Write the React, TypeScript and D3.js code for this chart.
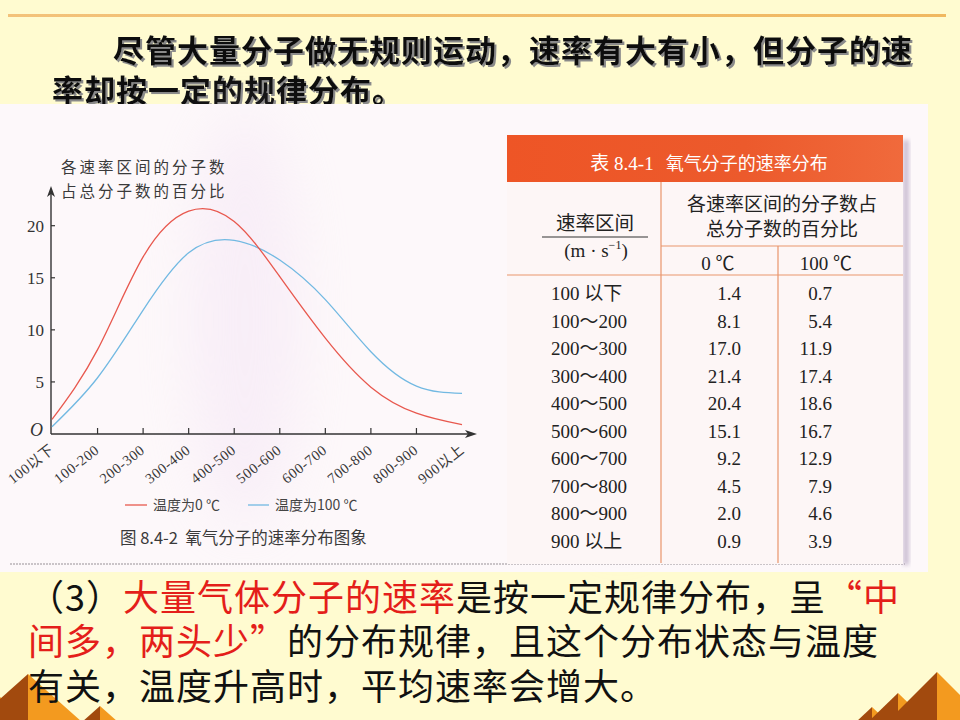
import React from "react";
import * as d3 from "d3";

// speed intervals (m/s) and share of molecules in each, for O2 at 0 °C and 100 °C
const axisBins = ["100以下", "100-200", "200-300", "300-400", "400-500", "500-600", "600-700", "700-800", "800-900", "900以上"];
const tableBins = ["100 以下", "100～200", "200～300", "300～400", "400～500", "500～600", "600～700", "700～800", "800～900", "900 以上"];
const pct0C = [1.4, 8.1, 17.0, 21.4, 20.4, 15.1, 9.2, 4.5, 2.0, 0.9];
const pct100C = [0.7, 5.4, 11.9, 17.4, 18.6, 16.7, 12.9, 7.9, 4.6, 3.9];
const yTicks = [5, 10, 15, 20];

const RED = "#e8584e";
const BLUE = "#72b9e2";
const SERIF = "'Liberation Serif', 'Noto Sans CJK SC', serif";
const CJK = "'Noto Sans CJK SC', sans-serif";

// pyramid decorations: peak x, peak y, half width of base
const pyramids = [
  { x: 0, y: 697, w: 30 },
  { x: 28, y: 674, w: 54 },
  { x: 100, y: 706, w: 18 },
  { x: 872, y: 707, w: 16 },
  { x: 898, y: 693, w: 30 },
  { x: 937, y: 672, w: 50 },
];

const App = () => {
  const x = d3.scalePoint<string>().domain(axisBins).range([52, 462]);
  const y = d3.scaleLinear().domain([0, 20]).range([434, 225.7]);

  const line = d3
    .line<number>()
    .x((_, i) => x(axisBins[i]) as number)
    .y((d) => y(d))
    .curve(d3.curveNatural);

  const rowY = d3.scaleLinear().domain([0, tableBins.length - 1]).range([300, 548]);

  return (
    <svg width={960} height={720} style={{ position: "absolute", left: 0, top: 0, display: "block" }}>
      <defs>
        <filter id="haze" x="-50%" y="-50%" width="200%" height="200%">
          <feGaussianBlur stdDeviation="28" />
        </filter>
        <filter id="soft" x="-20%" y="-5%" width="140%" height="110%">
          <feGaussianBlur stdDeviation="2" />
        </filter>
        <filter id="shadow" x="-5%" y="-20%" width="110%" height="150%">
          <feDropShadow dx="2" dy="2" stdDeviation="0.6" floodColor="#8a8a8a" floodOpacity="1" />
        </filter>
        <linearGradient id="topRule" x1="0" x2="1">
          <stop offset="0" stopColor="#f3c27a" />
          <stop offset="1" stopColor="#f0b860" />
        </linearGradient>
        <linearGradient id="tableHead" x1="0" x2="1">
          <stop offset="0" stopColor="#ee5526" />
          <stop offset="0.6" stopColor="#ec5a2c" />
          <stop offset="1" stopColor="#f06a3c" />
        </linearGradient>
      </defs>

      <rect width={960} height={720} fill="#fffbd0" />
      <rect x={8} y={14} width={938} height={3} fill="url(#topRule)" />

      {/* heading */}
      <g fontFamily={CJK} fontWeight={700} fontSize={31} letterSpacing={1} fill="#111" filter="url(#shadow)">
        <text x={113} y={62}>尽管大量分子做无规则运动，速率有大有小，但分子的速</text>
        <text x={52} y={102}>率却按一定的规律分布。</text>
      </g>

      {/* scanned page */}
      <rect x={0} y={104} width={928} height={468} fill="#fdf8fa" />
      <ellipse cx={245} cy={320} rx={55} ry={210} fill="#efdcf3" opacity={0.35} filter="url(#haze)" />
      <ellipse cx={620} cy={420} rx={40} ry={120} fill="#f3e3f0" opacity={0.3} filter="url(#haze)" />
      <line x1={10} x2={905} y1={564} y2={564} stroke="#b9b3b8" strokeWidth={1.5} strokeDasharray="2 1" />

      {/* chart */}
      <g fontFamily={SERIF} fill="#333">
        <text x={61} y={173} fontFamily={CJK} fontSize={15.5} letterSpacing={3} fill="#3a3a3a">各速率区间的分子数</text>
        <text x={61} y={197} fontFamily={CJK} fontSize={15.5} letterSpacing={3} fill="#3a3a3a">占总分子数的百分比</text>

        <line x1={51} x2={51} y1={434} y2={194} stroke="#333" strokeWidth={1.4} />
        <path d="M51,186 L47,197 L51,194 L55,197 Z" fill="#333" />
        <line x1={51} x2={468} y1={434} y2={434} stroke="#333" strokeWidth={1.4} />
        <path d="M477,434 L465,430 L468,434 L465,438 Z" fill="#333" />

        {yTicks.map((t) => (
          <g key={t}>
            <line x1={51} x2={55} y1={y(t)} y2={y(t)} stroke="#333" strokeWidth={1.2} />
            <text x={44} y={y(t) + 6} fontSize={17} textAnchor="end">{t}</text>
          </g>
        ))}
        <text x={30} y={436} fontSize={18} fontStyle="italic">O</text>

        {axisBins.slice(1, -1).map((b) => (
          <line key={b} x1={x(b)} x2={x(b)} y1={434} y2={428} stroke="#333" strokeWidth={1.2} />
        ))}
        {axisBins.map((b) => (
          <text
            key={b}
            transform={`translate(${(x(b) as number) - 18},${468}) rotate(-38)`}
            textAnchor="middle"
            fontSize={14.5}
            letterSpacing={0.6}
            fill="#3a3a3a"
          >
            {b}
          </text>
        ))}

        <path d={line(pct100C) ?? ""} fill="none" stroke={BLUE} strokeWidth={1.3} />
        <path d={line(pct0C) ?? ""} fill="none" stroke={RED} strokeWidth={1.3} />

        {/* legend */}
        <line x1={125} x2={147} y1={505} y2={505} stroke={RED} strokeWidth={1.3} />
        <text x={153} y={510} fontSize={14} fontFamily={CJK} fill="#444">温度为0 ℃</text>
        <line x1={248} x2={269} y1={505} y2={505} stroke={BLUE} strokeWidth={1.3} />
        <text x={275} y={510} fontSize={14} fontFamily={CJK} fill="#444">温度为100 ℃</text>

        <text x={120} y={544} fontSize={16.5} fontFamily={CJK} fill="#3a3a3a">
          图 8.4-2 &#160;氧气分子的速率分布图象
        </text>
      </g>

      {/* table */}
      <g>
        <rect x={903} y={140} width={6} height={425} fill="#b8a9c4" opacity={0.7} filter="url(#soft)" />
        <rect x={507} y={182} width={396} height={382} fill="#fdf6f6" />
        <rect x={507} y={135} width={396} height={47} fill="url(#tableHead)" />
        <text x={709} y={170} textAnchor="middle" fill="#fff" fontFamily={CJK} fontSize={18}>
          <tspan fontFamily={SERIF} fontSize={19}>表 8.4-1</tspan>
          <tspan dx={12}>氧气分子的速率分布</tspan>
        </text>

        <g stroke="#e9956c" strokeWidth={1.2}>
          <line x1={661} x2={661} y1={182} y2={563} />
          <line x1={778} x2={778} y1={246} y2={563} />
          <line x1={661} x2={903} y1={246} y2={246} />
          <line x1={507} x2={903} y1={275} y2={275} />
        </g>

        <g fill="#222" fontFamily={SERIF} fontSize={19}>
          <text x={595} y={230} textAnchor="middle" fontFamily={CJK} fontSize={19.5}>速率区间</text>
          <line x1={542} x2={648} y1={237} y2={237} stroke="#333" strokeWidth={1.2} />
          <text x={596} y={257} textAnchor="middle">
            (m · s<tspan dy={-8} fontSize={12}>−1</tspan><tspan dy={8}>)</tspan>
          </text>
          <text x={782} y={211} textAnchor="middle" fontFamily={CJK} fontSize={19}>各速率区间的分子数占</text>
          <text x={782} y={236} textAnchor="middle" fontFamily={CJK} fontSize={19}>总分子数的百分比</text>
          <text x={718} y={270} textAnchor="middle">0 ℃</text>
          <text x={826} y={270} textAnchor="middle">100 ℃</text>

          {tableBins.map((b, i) => (
            <g key={b}>
              <text x={551} y={rowY(i)}>{b}</text>
              <text x={741} y={rowY(i)} textAnchor="end">{pct0C[i].toFixed(1)}</text>
              <text x={832} y={rowY(i)} textAnchor="end">{pct100C[i].toFixed(1)}</text>
            </g>
          ))}
        </g>
      </g>

      {/* pyramids in the corners */}
      {pyramids.map((p, i) => (
        <g key={i}>
          <path d={`M${p.x},${p.y} L${p.x - p.w},${722} L${p.x},${722} Z`} fill="#a24a0e" />
          <path d={`M${p.x},${p.y} L${p.x + p.w},${722} L${p.x},${722} Z`} fill="#f39a1f" />
        </g>
      ))}

      {/* closing remark */}
      <g fontFamily={CJK} fontSize={36} letterSpacing={1} fill="#111">
        <text x={28} y={611}>
          <tspan>（3）</tspan>
          <tspan fill="#e41e1a">大量气体分子的速率</tspan>
          <tspan>是按一定规律分布，呈</tspan>
          <tspan fill="#e41e1a">“中</tspan>
        </text>
        <text x={28} y={655}>
          <tspan fill="#e41e1a">间多，两头少”</tspan>
          <tspan>的分布规律，且这个分布状态与温度</tspan>
        </text>
        <text x={28} y={700}>有关，温度升高时，平均速率会增大。</text>
      </g>
    </svg>
  );
};

export default App;
